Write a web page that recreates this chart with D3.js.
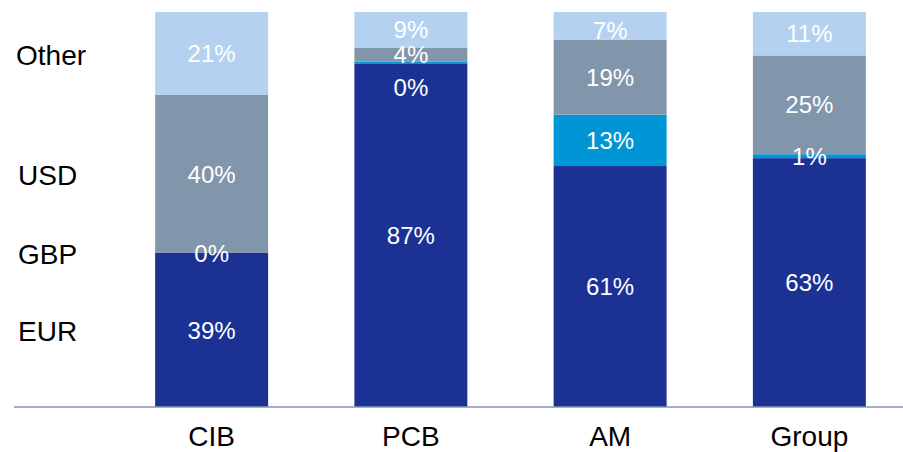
<!DOCTYPE html>
<html>
<head>
    <meta charset="utf-8">
    <script src="https://d3js.org/d3.v7.min.js"></script>
    <style>
        body { margin: 0; background: #fff; }
        text { font-family: "Liberation Sans", Arial, sans-serif; }
    </style>
</head>
<body>
<script>
// data (percent of each business line)
var categories = ["CIB", "PCB", "AM", "Group"];
var currencies = ["EUR", "GBP", "USD", "Other"];
var eur   = [39, 87, 61, 63];
var gbp   = [0, 0.4, 13, 1];
var usd   = [40, 3.6, 19, 25];
var other = [21, 9, 7, 11];

var colors = ["#1b3294", "#0096d6", "#8196ab", "#b4d1ef"];

// a couple of labels sit off-centre in the original
var labelShift = { "PCB|GBP": 25, "AM|Other": 5 };

var W = 903, H = 452;
var svg = d3.select("body").append("svg")
    .attr("width", W).attr("height", H);

var rows = categories.map(function (c, i) {
    return { cat: c, EUR: eur[i], GBP: gbp[i], USD: usd[i], Other: other[i] };
});

var stack = d3.stack().keys(currencies);
var series = stack(rows);

var x = d3.scaleBand()
    .domain(categories)
    .range([112, 909])
    .paddingInner(0.433)
    .paddingOuter(0.2165);

var y = d3.scaleLinear()
    .domain([0, 100])
    .range([407, 12]);

var layers = svg.selectAll("g.layer")
    .data(series)
    .enter().append("g")
    .attr("class", "layer")
    .attr("fill", function (d, i) { return colors[i]; });

layers.selectAll("rect")
    .data(function (d) { return d; })
    .enter().append("rect")
    .attr("x", function (d) { return x(d.data.cat); })
    .attr("width", x.bandwidth())
    .attr("y", function (d) { return y(d[1]); })
    .attr("height", function (d) { return y(d[0]) - y(d[1]); });

// value labels
series.forEach(function (s) {
    svg.append("g").selectAll("text")
        .data(s)
        .enter().append("text")
        .attr("x", function (d) { return x(d.data.cat) + x.bandwidth() / 2; })
        .attr("y", function (d) {
            var k = d.data.cat + "|" + s.key;
            return (y(d[0]) + y(d[1])) / 2 + (labelShift[k] || 0);
        })
        .attr("dy", "0.36em")
        .attr("text-anchor", "middle")
        .attr("fill", "#fff")
        .style("font-size", "24px")
        .text(function (d) { return Math.round(d[1] - d[0]) + "%"; });
});

// baseline
svg.append("line")
    .attr("x1", 14).attr("x2", W)
    .attr("y1", y(0)).attr("y2", y(0))
    .attr("stroke", "#8497b0")
    .attr("stroke-width", 1.5);

// category labels
var xAxis = svg.append("g")
    .attr("transform", "translate(0," + y(0) + ")")
    .call(d3.axisBottom(x).tickSize(0).tickPadding(19));
xAxis.select(".domain").remove();
xAxis.selectAll("text")
    .attr("fill", "#000")
    .style("font-size", "28px")
    .style("font-family", "'Liberation Sans', Arial, sans-serif");

// currency labels on the left, lined up with the CIB segments
svg.append("g").selectAll("text")
    .data(series)
    .enter().append("text")
    .attr("x", function (d) { return d.key === "Other" ? 16 : 18; })
    .attr("y", function (d) { return (y(d[0][0]) + y(d[0][1])) / 2 + 1; })
    .attr("dy", "0.36em")
    .attr("fill", "#000")
    .style("font-size", "28px")
    .text(function (d) { return d.key; });
</script>
</body>
</html>
